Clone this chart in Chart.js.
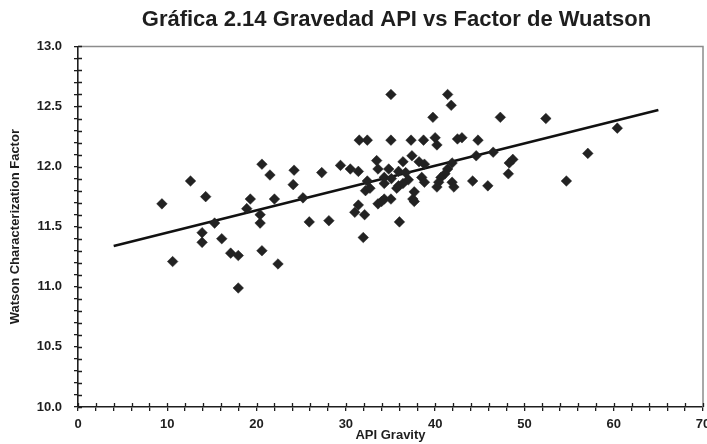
<!DOCTYPE html>
<html>
<head>
<meta charset="utf-8">
<script src="https://cdn.jsdelivr.net/npm/chart.js@4"></script>
<style>
  html, body { margin: 0; padding: 0; background: #fff; overflow: hidden; }
  #wrap { width: 720px; height: 444px; }
</style>
</head>
<body>
<div id="wrap"><canvas id="apiChart" width="720" height="444"></canvas></div>
<script>
// Gravedad API vs Factor de caracterización de Watson
const apiGravity = [
  9.4, 10.6, 12.6, 13.9, 13.9, 14.3, 15.3, 16.1, 17.1, 17.95,
  17.95, 18.9, 19.3, 20.6, 20.4, 20.4, 20.6, 21.5, 22.0, 22.4,
  24.2, 24.1, 25.2, 25.9, 27.3, 28.1, 29.4, 30.5, 31.4, 31.5,
  32.4, 31.4, 31.0, 32.1, 32.2, 31.95, 32.4, 32.7, 33.45, 33.6,
  34.8, 35.9, 36.7, 35.05, 35.05, 37.3, 38.7, 40.0, 40.2, 42.5,
  43.0, 44.8, 41.4, 41.8, 39.75, 37.4, 36.4, 38.2, 38.8, 41.9,
  44.6, 41.4, 41.1, 40.65, 34.3, 35.1, 37.0, 38.5, 38.8, 34.3,
  35.9, 36.4, 40.4, 40.2, 41.9, 42.1, 44.2, 45.9, 35.7, 37.66,
  37.5, 37.66, 33.6, 34.0, 34.3, 35.05, 36.0, 47.3, 52.4, 60.4,
  46.5, 48.7, 48.3, 48.2, 57.1, 54.7
];
const watsonK = [
  11.69, 11.21, 11.88, 11.45, 11.37, 11.75, 11.53, 11.40, 11.28, 11.26,
  10.99, 11.65, 11.73, 12.02, 11.60, 11.53, 11.30, 11.93, 11.73, 11.19,
  11.97, 11.85, 11.74, 11.54, 11.95, 11.55, 12.01, 11.98, 11.96, 12.22,
  12.22, 11.68, 11.62, 11.60, 11.80, 11.41, 11.88, 11.82, 12.05, 11.98,
  11.98, 11.96, 11.95, 12.60, 12.22, 12.22, 12.22, 12.24, 12.18, 12.23,
  12.24, 12.22, 12.60, 12.51, 12.41, 12.09, 12.04, 12.04, 12.02, 12.03,
  12.09, 11.98, 11.94, 11.91, 11.91, 11.90, 11.89, 11.91, 11.87, 11.86,
  11.84, 11.86, 11.87, 11.83, 11.87, 11.83, 11.88, 11.84, 11.82, 11.79,
  11.73, 11.71, 11.69, 11.71, 11.73, 11.73, 11.54, 12.41, 12.40, 12.32,
  12.12, 12.06, 12.03, 11.94, 12.11, 11.88
];
// línea de tendencia (extremos)
const trendX = [4, 65];
const trendY = [11.34, 12.47];

const xTicksEvery = 10;
const yTicksEvery = 0.5;

const FONT = '"Liberation Sans", Arial, sans-serif';
const INK = '#1e1e1e';

const points = apiGravity.map((x, i) => ({ x, y: watsonK[i] }));
const trend = trendX.map((x, i) => ({ x, y: trendY[i] }));

// marcas que cruzan el eje (dentro y fuera) + marco superior/derecho gris
const frameTicks = {
  id: 'frameTicks',
  afterLayout(chart) {
    const t = chart.titleBlock;
    if (t) { t.left = chart.chartArea.left; t.right = chart.chartArea.right + 12; }
  },
  afterDatasetsDraw(chart) {
    const { ctx, chartArea: a, scales } = chart;
    ctx.save();
    ctx.strokeStyle = '#8c8c8c';
    ctx.lineWidth = 1.5;
    ctx.beginPath();
    ctx.moveTo(a.left, a.top);
    ctx.lineTo(a.right, a.top);
    ctx.lineTo(a.right, a.bottom);
    ctx.stroke();
    ctx.strokeStyle = INK;
    ctx.lineWidth = 1.3;
    ctx.beginPath();
    scales.x.ticks.forEach(t => {
      const px = Math.round(scales.x.getPixelForValue(t.value)) + 0.5;
      ctx.moveTo(px, a.bottom - 4);
      ctx.lineTo(px, a.bottom);
    });
    scales.y.ticks.forEach(t => {
      const py = Math.round(scales.y.getPixelForValue(t.value)) + 0.5;
      ctx.moveTo(a.left, py);
      ctx.lineTo(a.left + 4, py);
    });
    ctx.stroke();
    ctx.restore();
  }
};

new Chart(document.getElementById('apiChart'), {
  type: 'scatter',
  data: {
    datasets: [
      {
        label: 'Datos',
        data: points,
        pointStyle: 'rectRot',
        pointRadius: 5.3,
        pointBackgroundColor: '#222',
        pointBorderColor: '#222',
        pointBorderWidth: 0.5,
        showLine: false
      },
      {
        label: 'Tendencia',
        data: trend,
        showLine: true,
        pointRadius: 0,
        borderColor: '#111',
        borderWidth: 2.6,
        fill: false
      }
    ]
  },
  options: {
    responsive: false,
    animation: false,
    devicePixelRatio: 1,
    layout: { padding: { left: 0, right: 17, top: 0, bottom: 0 } },
    plugins: {
      legend: { display: false },
      tooltip: { enabled: false },
      title: {
        display: true,
        text: 'Gráfica 2.14 Gravedad API vs Factor de Wuatson',
        color: INK,
        font: { family: FONT, size: 22, weight: 'bold', lineHeight: 1.2 },
        padding: { top: 7, bottom: 13 }
      }
    },
    scales: {
      x: {
        type: 'linear',
        min: 0,
        max: 70,
        afterFit: s => { s.height = 37; },
        border: { display: true, color: INK, width: 1.6 },
        grid: { display: true, drawOnChartArea: false, drawTicks: true, tickLength: 4, color: INK, lineWidth: 1.3 },
        ticks: {
          stepSize: 2,
          autoSkip: false,
          maxRotation: 0,
          padding: 6,
          color: INK,
          font: { family: FONT, size: 13, weight: 'bold' },
          callback: v => (Math.round(v) % xTicksEvery === 0 ? String(Math.round(v)) : '')
        },
        title: {
          display: true,
          text: 'API Gravity',
          color: INK,
          font: { family: FONT, size: 13, weight: 'bold' },
          padding: { top: 0, bottom: 1 }
        }
      },
      y: {
        type: 'linear',
        min: 10,
        max: 13,
        afterFit: s => { s.width = 78; },
        border: { display: true, color: INK, width: 1.6 },
        grid: { display: true, drawOnChartArea: false, drawTicks: true, tickLength: 4, color: INK, lineWidth: 1.3 },
        ticks: {
          stepSize: 0.1,
          autoSkip: false,
          padding: 12,
          color: INK,
          font: { family: FONT, size: 13, weight: 'bold' },
          callback: v => (Math.round(v * 10) % Math.round(yTicksEvery * 10) === 0 ? v.toFixed(1) : '')
        },
        title: {
          display: true,
          text: 'Watson Characterization Factor',
          color: INK,
          font: { family: FONT, size: 13, weight: 'bold' },
          padding: { top: 8, bottom: 0 }
        }
      }
    }
  },
  plugins: [frameTicks]
});
</script>
</body>
</html>
